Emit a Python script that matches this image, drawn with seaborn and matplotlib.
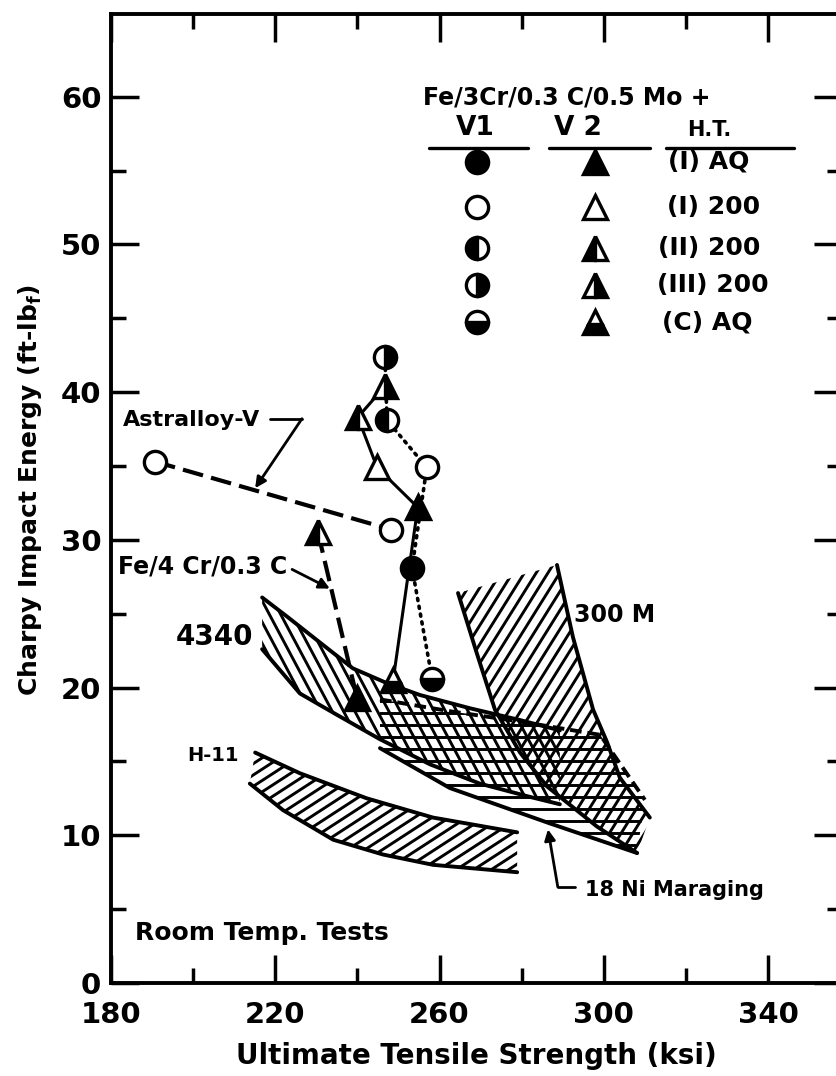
import numpy as np
import matplotlib
matplotlib.use("Agg")
import matplotlib.pyplot as plt
from matplotlib.patches import Polygon
import pandas as pd
import seaborn as sns

# ---------------- data ----------------
# Fe/3Cr/0.3C/0.5Mo + V1 (circles) and + V2 (triangles), by heat treatment
heat_treatments = ["(I) AQ", "(I) 200", "(II) 200", "(III) 200", "(C) AQ"]
v1_uts = [253.3, 256.9, 247.2, 246.7, 258.2]
v1_cvn = [28.1, 34.9, 38.1, 42.4, 20.6]
v2_uts = [254.7, 244.8, 240.1, 246.7, 248.7]
v2_cvn = [32.2, 34.9, 38.3, 40.4, 20.5]
# order in which each alloy's points are joined
join_order = ["(C) AQ", "(I) AQ", "(I) 200", "(II) 200", "(III) 200"]

astralloy_uts = [190.7, 248.2]
astralloy_cvn = [35.3, 30.7]

fe4cr_uts = [230.4, 239.9]
fe4cr_cvn = [30.5, 19.3]
fe4cr_ht = ["(II) 200", "(I) AQ"]

# scatter bands for commercial steels (two bounding edges each)
h11_up_x = [215.1, 226.0, 242.3, 258.4, 278.9]
h11_up_y = [15.6, 14.2, 12.5, 11.2, 10.2]
h11_lo_x = [213.8, 221.9, 234.1, 246.2, 258.4, 278.9]
h11_lo_y = [13.5, 11.7, 9.7, 8.7, 8.0, 7.5]

s4340_up_x = [216.8, 222.9, 230.2, 238.9, 247.2, 255.2, 267.4, 279.6, 289.3]
s4340_up_y = [26.1, 24.8, 23.2, 21.3, 20.3, 19.5, 18.6, 17.8, 17.1]
s4340_lo_x = [216.8, 226.0, 234.1, 245.5, 257.7, 269.8, 282.0, 289.3]
s4340_lo_y = [22.6, 19.6, 18.3, 16.5, 14.8, 13.5, 12.6, 12.1]

ni18_up_x = [245.5, 262.5, 279.6, 299.1, 310.0]
ni18_up_y = [19.2, 18.4, 17.7, 16.8, 12.4]
ni18_lo_x = [245.5, 262.5, 286.9, 308.1]
ni18_lo_y = [15.9, 13.2, 10.8, 8.8]

m300_a_x = [264.5, 269.1, 273.5, 279.6, 286.2, 298.3, 308.1]
m300_a_y = [26.4, 22.3, 18.5, 15.6, 13.3, 10.6, 8.8]
m300_b_x = [288.6, 290.5, 292.5, 294.9, 297.4, 300.8, 303.9, 311.2]
m300_b_y = [28.3, 25.9, 23.4, 21.0, 18.5, 16.3, 13.9, 11.2]

x_ticks = [180, 220, 260, 300, 340]
y_ticks = [0, 10, 20, 30, 40, 50, 60]

# ---------------- style ----------------
sns.set_theme(style="ticks")
plt.rcParams["font.family"] = ["DejaVu Sans"]
plt.rcParams["font.weight"] = "bold"
for key in ["text.color", "axes.labelcolor", "xtick.color", "ytick.color"]:
    plt.rcParams[key] = "black"
plt.rcParams["axes.linewidth"] = 2.8
plt.rcParams["lines.solid_capstyle"] = "round"

W, H = 836, 1076
fig = plt.figure(figsize=(W / 100, H / 100), dpi=100, facecolor="white")
ax = fig.add_axes([111 / W, 93 / H, 731 / W, 969 / H])
ax.set_facecolor("white")
ax.set_xlim(180, 358)
ax.set_ylim(0, 65.6)
ax.set_autoscale_on(False)

ax.set_xticks(x_ticks)
ax.set_xticks([200, 240, 280, 320], minor=True)
ax.set_yticks(y_ticks)
ax.set_yticks(np.arange(5, 65, 10), minor=True)
ax.tick_params(which="both", direction="in", top=True, right=True,
               width=2.5, color="black", labelcolor="black")
ax.tick_params(which="major", length=20, labelsize=21)
ax.tick_params(which="minor", length=11)
ax.tick_params(axis="x", which="major", pad=13)
ax.tick_params(axis="y", which="major", pad=7)
for lab in ax.get_xticklabels() + ax.get_yticklabels():
    lab.set_fontweight("bold")
for s in ax.spines.values():
    s.set_color("black")
    s.set_linewidth(2.8)

K = "black"


def hatch_band(xa, ya, xb, yb, angle, spacing, lw=2.1, z=2):
    """Fill the region between edge a and edge b with clipped hatch lines."""
    verts = np.column_stack([np.r_[xa, xb[::-1]], np.r_[ya, yb[::-1]]])
    patch = Polygon(verts, closed=True, facecolor="none", edgecolor="none")
    ax.add_patch(patch)
    disp = ax.transData.transform(verts)
    c = disp.mean(axis=0)
    r = np.hypot(*(disp - c).T).max() + spacing
    t = np.deg2rad(angle)
    d = np.array([np.cos(t), np.sin(t)])
    n = np.array([-d[1], d[0]])
    inv = ax.transData.inverted()
    for off in np.arange(-r, r + spacing, spacing):
        seg = inv.transform(np.vstack([c + n * off - d * r, c + n * off + d * r]))
        ln, = ax.plot(seg[:, 0], seg[:, 1], color=K, lw=lw,
                      solid_capstyle="butt", zorder=z)
        ln.set_clip_path(patch)


def edge(x, y, ls="-", lw=2.8, z=3):
    sns.lineplot(x=x, y=y, sort=False, estimator=None, color=K, lw=lw,
                 linestyle=ls, ax=ax, zorder=z, legend=False)


# H-11
hatch_band(np.array(h11_up_x), np.array(h11_up_y),
           np.array(h11_lo_x), np.array(h11_lo_y), 33, 9.5)
edge(h11_up_x, h11_up_y)
edge(h11_lo_x, h11_lo_y)

# 4340
hatch_band(np.array(s4340_up_x), np.array(s4340_up_y),
           np.array(s4340_lo_x), np.array(s4340_lo_y), 118, 10)
edge(s4340_up_x, s4340_up_y)
edge(s4340_lo_x, s4340_lo_y)

# 18 Ni maraging
hatch_band(np.array(ni18_up_x), np.array(ni18_up_y),
           np.array(ni18_lo_x), np.array(ni18_lo_y), 0, 12)
edge(ni18_up_x, ni18_up_y, ls=(0, (3, 1.5)))
edge(ni18_lo_x, ni18_lo_y)

# 300M
hatch_band(np.array(m300_a_x), np.array(m300_a_y),
           np.array(m300_b_x), np.array(m300_b_y), 58, 10)
edge(m300_a_x, m300_a_y)
edge(m300_b_x, m300_b_y)

# ---------------- alloy data ----------------
fill_of = {"(I) AQ": "full", "(I) 200": "none", "(II) 200": "left",
           "(III) 200": "right", "(C) AQ": "bottom"}


def marker(x, y, shape, ht, ms, trans=None, z=6):
    fs = fill_of[ht]
    kw = dict(marker=shape, ms=ms, mec=K, mew=2.4, ls="none", zorder=z)
    if fs == "none":
        kw.update(mfc="white", fillstyle="full")
    else:
        kw.update(mfc=K, fillstyle=fs, markerfacecoloralt="white")
    if trans is not None:
        kw["transform"] = trans
    ax.plot([x], [y], **kw)


v1 = pd.DataFrame({"ht": heat_treatments, "uts": v1_uts, "cvn": v1_cvn}).set_index("ht")
v2 = pd.DataFrame({"ht": heat_treatments, "uts": v2_uts, "cvn": v2_cvn}).set_index("ht")

# V2: solid line, V1: dotted line
sns.lineplot(x=v2.loc[join_order, "uts"].values, y=v2.loc[join_order, "cvn"].values,
             sort=False, estimator=None, color=K, lw=2.2, ax=ax, zorder=5)
ax.plot(v1.loc[join_order, "uts"].values, v1.loc[join_order, "cvn"].values,
        color=K, lw=2.6, ls=(0, (0.6, 1.6)), dash_capstyle="round", zorder=5)

# Astralloy-V and Fe/4Cr/0.3C
sns.lineplot(x=astralloy_uts, y=astralloy_cvn, sort=False, estimator=None,
             color=K, lw=3, linestyle=(0, (5, 2)), ax=ax, zorder=5)
sns.lineplot(x=fe4cr_uts, y=fe4cr_cvn, sort=False, estimator=None,
             color=K, lw=3, linestyle=(0, (5, 2)), ax=ax, zorder=5)
for x, y in zip(astralloy_uts, astralloy_cvn):
    marker(x, y, "o", "(I) 200", 16)
for x, y, ht in zip(fe4cr_uts, fe4cr_cvn, fe4cr_ht):
    marker(x, y, "^", ht, 17)

for ht in heat_treatments:
    marker(v1.loc[ht, "uts"], v1.loc[ht, "cvn"], "o", ht, 16)
    marker(v2.loc[ht, "uts"], v2.loc[ht, "cvn"], "^", ht, 17)

# ---------------- labels in the field ----------------
arrow = dict(arrowstyle="-|>", color=K, lw=2, shrinkA=0, shrinkB=0, mutation_scale=16)
ax.text(199.7, 38.1, "Astralloy-V", fontsize=16, ha="center", va="center")
ax.plot([218.7, 226.5], [38.2, 38.2], color=K, lw=2, zorder=4)
ax.annotate("", xy=(215.1, 33.5), xytext=(226.5, 38.2), arrowprops=arrow)

ax.text(202.2, 28.2, "Fe/4 Cr/0.3 C", fontsize=17, ha="center", va="center")
ax.annotate("", xy=(233.3, 26.7), xytext=(224.1, 28.0), arrowprops=arrow)

ax.text(205.3, 23.4, "4340", fontsize=20, ha="center", va="center")
ax.text(204.8, 15.4, "H-11", fontsize=14, ha="center", va="center")
ax.text(302.5, 24.9, "300 M", fontsize=17, ha="center", va="center")
ax.text(317.3, 6.3, "18 Ni Maraging", fontsize=15, ha="center", va="center")
ax.plot([293.0, 288.8], [6.5, 6.5], color=K, lw=2, zorder=4)
ax.annotate("", xy=(286.4, 10.4), xytext=(288.8, 6.5), arrowprops=arrow)
ax.text(216.8, 3.4, "Room Temp. Tests", fontsize=18, ha="center", va="center")

# ---------------- key ----------------
T = ax.transAxes
ax.text(0.6238, 0.9143, "Fe/3Cr/0.3 C/0.5 Mo +", transform=T, fontsize=17,
        ha="center", va="center")
ax.text(0.4979, 0.8824, "V1", transform=T, fontsize=19, ha="center", va="center")
ax.text(0.6389, 0.8824, "V 2", transform=T, fontsize=19, ha="center", va="center")
ax.text(0.818, 0.8803, "H.T.", transform=T, fontsize=15, ha="center", va="center")
for x0, x1 in [(0.435, 0.5705), (0.5992, 0.7373), (0.7592, 0.9343)]:
    ax.plot([x0, x1], [0.8617, 0.8617], transform=T, color=K, lw=2.4)

row_y = [0.8473, 0.8008, 0.7585, 0.7203, 0.6821]
text_x = [0.762, 0.7606, 0.7483, 0.7469, 0.7538]
for ht, yy, tx in zip(heat_treatments, row_y, text_x):
    marker(0.5007, yy, "o", ht, 16, trans=T)
    marker(0.6621, yy, "^", ht, 17, trans=T)
    ax.text(tx, yy, ht, transform=T, fontsize=18, ha="left", va="center")

# ---------------- axis titles ----------------
fig.text(30 / W, 1 - 490 / H, "Charpy Impact Energy (ft-lb$_{\\mathbf{f}}$)",
         rotation=90, ha="center", va="center", fontsize=18)
fig.text(476 / W, 1 - 1056 / H, "Ultimate Tensile Strength (ksi)",
         ha="center", va="center", fontsize=20)

fig.savefig("out.png", dpi=100, facecolor="white")
